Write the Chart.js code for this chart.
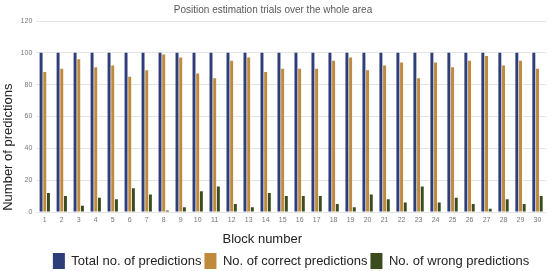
<!DOCTYPE html>
<html>
<head>
<meta charset="utf-8">
<script src="https://cdn.jsdelivr.net/npm/chart.js@4/dist/chart.umd.min.js"></script>
<style>
  body { margin: 0; background: #fff; }
  #wrap { width: 550px; height: 271px; }
</style>
</head>
<body>
<div id="wrap"><canvas id="chart" width="550" height="271"></canvas></div>
<script>
// Block numbers 1..30
const blocks = ["1","2","3","4","5","6","7","8","9","10","11","12","13","14","15",
  "16","17","18","19","20","21","22","23","24","25","26","27","28","29","30"];

// Series
const totalPredictions = [100,100,100,100,100,100,100,100,100,100,100,100,100,100,100,
  100,100,100,100,100,100,100,100,100,100,100,100,100,100,100];
const correctPredictions = [88,90,96,91,92,85,89,99,97,87,84,95,97,88,90,
  90,90,95,97,89,92,94,84,94,91,95,98,92,95,90];
const wrongPredictions = [12,10,4,9,8,15,11,1,3,13,16,5,3,12,10,
  10,10,5,3,11,8,6,16,6,9,5,2,8,5,10];

const yTicks = [0, 20, 40, 60, 80, 100, 120];

// axis titles sit off-centre in the original, trailing spaces nudge them
const xTitle = "Block number" + " ".repeat(16);
const yTitle = "Number of predictions" + " ".repeat(17);

// legend in the original sits a little right of centre
const legendShift = {
  id: "legendShift",
  afterLayout(chart) {
    chart.legend.left += 18;
    chart.legend.right += 18;
  }
};

const ctx = document.getElementById("chart").getContext("2d");
new Chart(ctx, {
  type: "bar",
  data: {
    labels: blocks,
    datasets: [
      { label: "Total no. of predictions", data: totalPredictions, backgroundColor: "#2f3d78" },
      { label: "No. of correct predictions", data: correctPredictions, backgroundColor: "#bf8a3c" },
      { label: "No. of wrong predictions", data: wrongPredictions, backgroundColor: "#3b4d1f" }
    ]
  },
  plugins: [legendShift],
  options: {
    responsive: false,
    animation: false,
    layout: { padding: { left: 0, right: 4, top: 0, bottom: -8 } },
    datasets: {
      bar: { categoryPercentage: 0.65, barPercentage: 0.8 }
    },
    scales: {
      x: {
        grid: { display: false, drawTicks: false },
        border: { display: false },
        ticks: { color: "#777", font: { size: 7, family: "Liberation Sans" }, maxRotation: 0, autoSkip: false, padding: 4 },
        title: { display: true, text: xTitle, color: "#222", font: { size: 13, family: "Liberation Sans" }, padding: { top: 3, bottom: 3 } }
      },
      y: {
        min: 0,
        max: 120,
        afterBuildTicks: axis => { axis.ticks = yTicks.map(v => ({ value: v })); },
        grid: { color: "#e4e4e4", drawTicks: false },
        border: { display: false },
        ticks: { color: "#777", font: { size: 7, family: "Liberation Sans" }, padding: 4 },
        title: { display: true, text: yTitle, color: "#222", font: { size: 13, family: "Liberation Sans" }, padding: { top: 1, bottom: 0 } }
      }
    },
    plugins: {
      title: {
        display: true,
        text: "Position estimation trials over the whole area",
        color: "#595959",
        font: { size: 10, weight: "normal", family: "Liberation Sans" },
        padding: { top: 4, bottom: 5 }
      },
      legend: {
        position: "bottom",
        labels: {
          color: "#222",
          font: { size: 13, family: "Liberation Sans" },
          boxWidth: 12,
          boxHeight: 16,
          padding: 3
        }
      },
      tooltip: { enabled: false }
    }
  }
});
</script>
</body>
</html>
